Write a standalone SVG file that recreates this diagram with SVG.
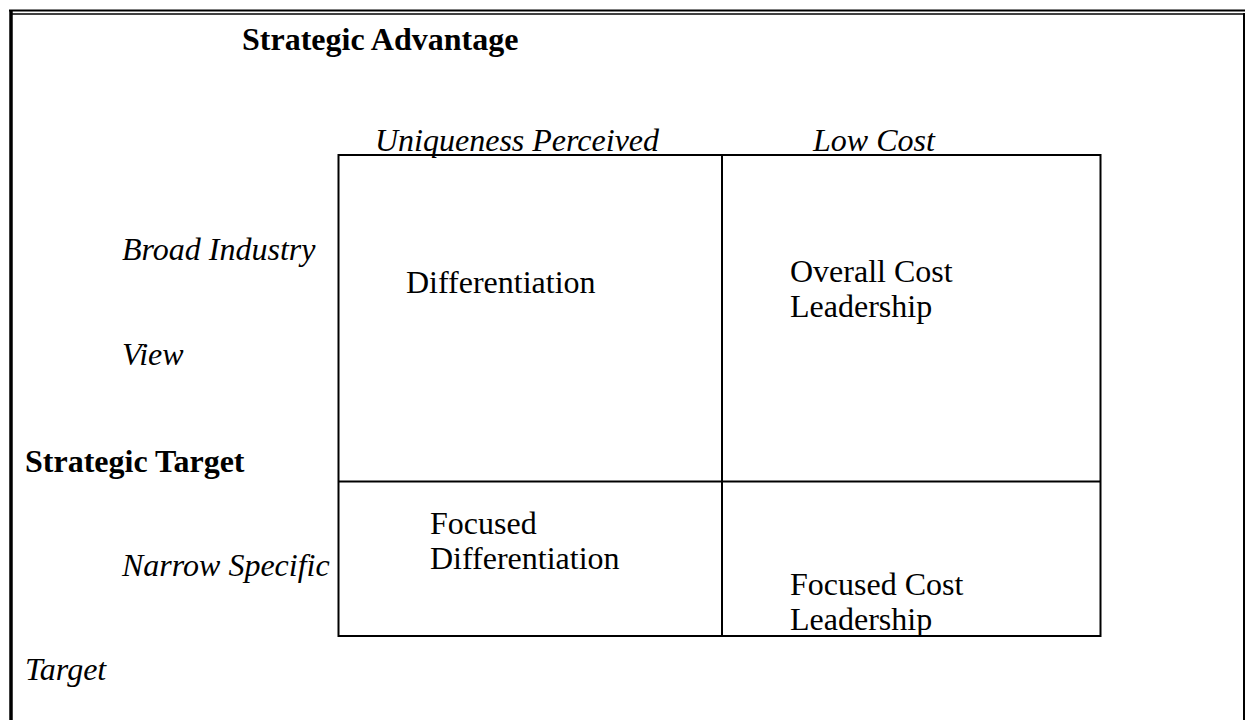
<svg xmlns="http://www.w3.org/2000/svg" width="1245" height="720" viewBox="0 0 1245 720">
<style>
text{font-family:"Liberation Serif","Times New Roman",serif;font-size:32px;fill:#000}
.b{font-weight:bold}
.i{font-style:italic}
.ln{stroke:#000;fill:none}
</style>
<rect width="1245" height="720" fill="#fff"/>
<g id="frame">
<line class="ln" x1="9" y1="10.5" x2="1245" y2="10.5" stroke-width="2"/>
<line class="ln" x1="11" y1="14" x2="1245" y2="14" stroke-width="1.5"/>
<line class="ln" x1="11" y1="10" x2="11" y2="720" stroke-width="3.5"/>
<line class="ln" x1="1244" y1="13" x2="1244" y2="720" stroke-width="2"/>
</g>
<g id="titles">
<text class="b" x="242" y="50">Strategic Advantage</text>
<text class="i" x="375" y="151">Uniqueness Perceived</text>
<text class="i" x="813" y="151">Low Cost</text>
<text class="i" x="122" y="260">Broad Industry</text>
<text class="i" x="122" y="365">View</text>
<text class="b" x="25" y="472">Strategic Target</text>
<text class="i" x="122" y="576">Narrow Specific</text>
<text class="i" x="25" y="680">Target</text>
</g>
<g id="connectors">
<rect class="ln" x="338.5" y="155" width="762" height="481" stroke-width="2"/>
<line class="ln" x1="722" y1="155" x2="722" y2="636" stroke-width="2"/>
<line class="ln" x1="338.5" y1="481.5" x2="1100.5" y2="481.5" stroke-width="2"/>
</g>
<g id="differentiation"><text x="406" y="293">Differentiation</text></g>
<g id="cost-leadership"><text x="790" y="282">Overall Cost</text><text x="790" y="317">Leadership</text></g>
<g id="focused-differentiation"><text x="430" y="534">Focused</text><text x="430" y="569">Differentiation</text></g>
<g id="focused-cost"><text x="790" y="595">Focused Cost</text><text x="790" y="630">Leadership</text></g>
</svg>
